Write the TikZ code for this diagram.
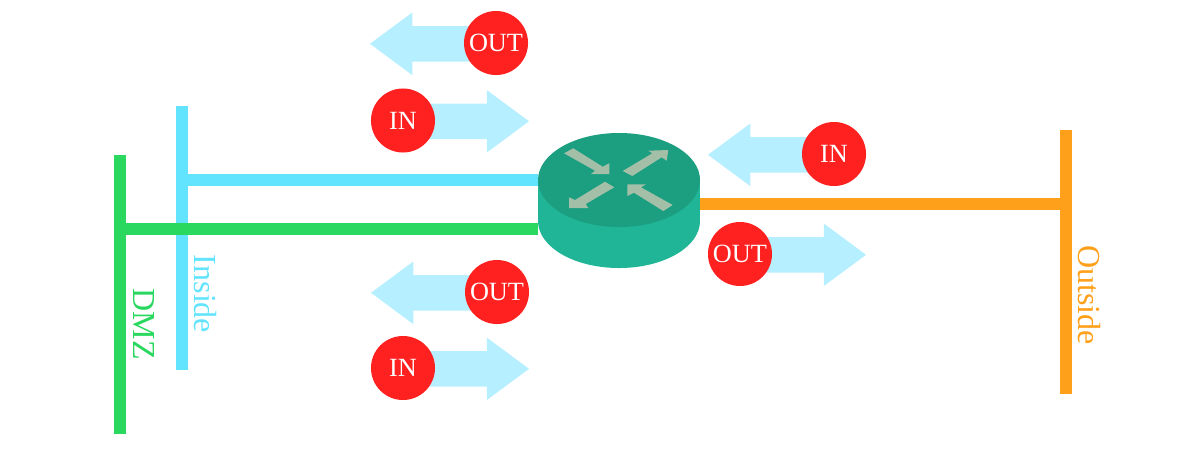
\documentclass[tikz,border=0pt]{standalone}
\usepackage{fontspec}
\setmainfont{Liberation Serif}
\usetikzlibrary{shapes.geometric, shapes.arrows}
\definecolor{insidecol}{HTML}{62E4FF}
\definecolor{dmzcol}{HTML}{2AD860}
\definecolor{outsidecol}{HTML}{FFA01A}
\definecolor{flowcol}{HTML}{B6EFFF}
\definecolor{badgecol}{HTML}{FF2020}
\definecolor{routertopcol}{HTML}{1C9E80}
\definecolor{routerbasecol}{HTML}{20B597}
\definecolor{routerarrowcol}{HTML}{A3BFA8}
\tikzstyle{routertop} = [ellipse, minimum width=4.05cm, minimum height=2.35cm, inner sep=0pt, fill=routertopcol]
\tikzstyle{routerbase} = [ellipse, minimum width=4.05cm, minimum height=2.35cm, inner sep=0pt, fill=routerbasecol]
\tikzstyle{flowright} = [single arrow, minimum height=2.5cm, inner xsep=0pt, inner ysep=0.4375cm, single arrow head extend=0.3375cm, single arrow tip angle=73, fill=flowcol]
\tikzstyle{flowleft} = [flowright, shape border rotate=180]
\tikzstyle{badge} = [circle, minimum size=1.6cm, inner sep=0pt, fill=badgecol, text=white, yshift=0.02cm, font=\fontsize{18.7pt}{20pt}\selectfont]
\tikzstyle{busline} = [line width=0.3cm]
\tikzstyle{buslabel} = [rotate=-90, inner sep=0pt, font=\fontsize{22.8pt}{24pt}\selectfont]

\begin{document}
\begin{tikzpicture}[x=0.025cm, y=-0.025cm, node distance=1.6cm]
\useasboundingbox (0,0) rectangle (1200,450);

%Router
\node (routerBase) [routerbase] at (619,221) {};
\fill [routerbasecol] (routerBase.west) rectangle (619+81,180);
\node (router) [routertop] at (619,180) {};
\fill [routerarrowcol] (564,153.3) -- (573.3,148.3) -- (602.7,166.7) -- (609.3,163.3) -- (609.3,174) -- (591,174) -- (595,170.7) -- cycle;
\fill [routerarrowcol] (622.7,171) -- (652.3,153.3) -- (648.3,150.7) -- (668.3,150) -- (666.7,160.7) -- (661.7,157.3) -- (632.3,176) -- cycle;
\fill [routerarrowcol] (605,181.7) -- (614.3,187.3) -- (585.7,204) -- (588.3,208) -- (569,208) -- (569,197.3) -- (575,200) -- cycle;
\fill [routerarrowcol] (627.3,184.3) -- (646,184.3) -- (641,187.3) -- (672.7,205) -- (663.3,211) -- (634,192.7) -- (627.3,196) -- cycle;

%Buses
\coordinate (insideTop) at (182,106);
\coordinate (insideBottom) at (182,370);
\coordinate (insideTap) at (182,180);
\coordinate (dmzTop) at (119.5,155);
\coordinate (dmzBottom) at (119.5,434);
\coordinate (dmzTap) at (119.5,228.6);
\coordinate (outsideTop) at (1066,130);
\coordinate (outsideBottom) at (1066,394);
\coordinate (outsideTap) at (1066,204);

\draw [busline, insidecol] (insideTop) -- (insideBottom);
\draw [busline, insidecol] (insideTap) -- (insideTap -| routerBase.west);
\draw [busline, dmzcol] (dmzTop) -- (dmzBottom);
\draw [busline, dmzcol] (dmzTap) -- (dmzTap -| routerBase.west);
\draw [busline, outsidecol] (outsideTop) -- (outsideBottom);
\draw [busline, outsidecol] (outsideTap) -- (outsideTap -| routerBase.east);

%Labels
\node (insideLabel) [buslabel, text=insidecol] at (205,294) {Inside};
\node (dmzLabel) [buslabel, text=dmzcol] at (144,324) {DMZ};
\node (outsideLabel) [buslabel, text=outsidecol] at (1089,295) {Outside};

%Inside and DMZ flows
\node (flowOutA) [flowleft] at (432,43.8) {};
\node (outA) [badge, right of=flowOutA] {OUT};
\node (flowInA) [flowright] at (467,121.3) {};
\node (inA) [badge, left of=flowInA] {IN};
\node (flowOutB) [flowleft] at (433,292.8) {};
\node (outB) [badge, right of=flowOutB] {OUT};
\node (flowInB) [flowright] at (467,368.8) {};
\node (inB) [badge, left of=flowInB] {IN};
%Outside flows
\node (flowInC) [flowleft] at (770,154.8) {};
\node (inC) [badge, right of=flowInC] {IN};
\node (flowOutC) [flowright] at (804,254.8) {};
\node (outC) [badge, left of=flowOutC] {OUT};

\end{tikzpicture}
\end{document}
